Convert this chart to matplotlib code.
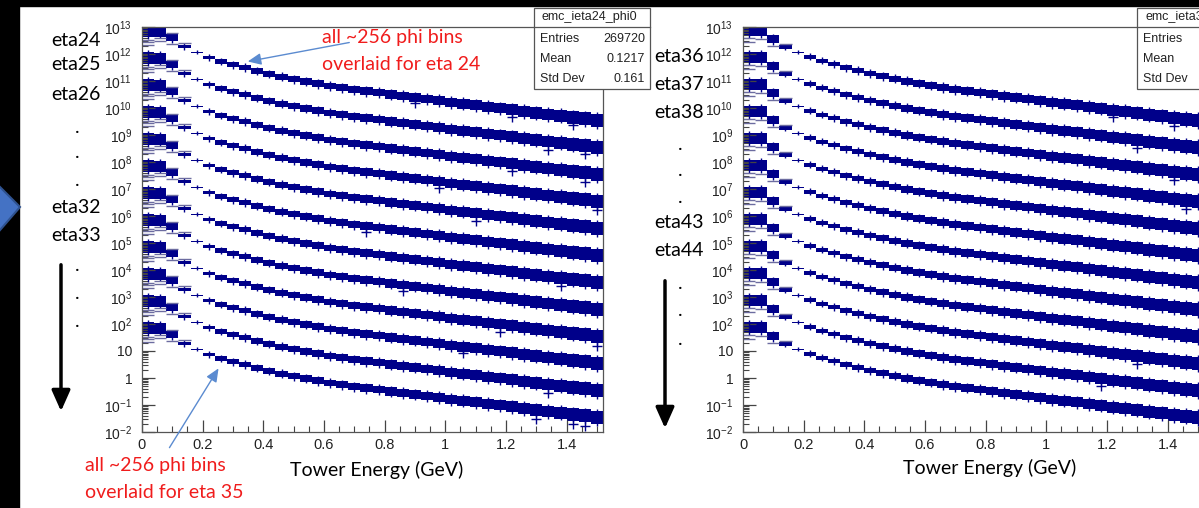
import numpy as np
import matplotlib.pyplot as plt
from matplotlib.patches import Rectangle, Polygon, FancyArrowPatch
from matplotlib.ticker import FixedLocator, FuncFormatter, MultipleLocator

plt.rcParams['font.family'] = ['Liberation Sans', 'DejaVu Sans']
plt.rcParams['mathtext.default'] = 'regular'

W, H = 1199, 508
NAVY = '#00008a'
RED = '#f01c1c'
SLIDE = ['Lato', 'DejaVu Sans']

# 38 energy bins of 0.04 GeV
bin_edges = np.round(np.arange(0, 1.52 + 1e-9, 0.04), 2)

# log10(counts) per bin for the top curve of each panel (eta24 / eta36)
logy_left = [12.85, 12.84, 12.60, 12.28, 12.07, 11.87, 11.72, 11.60, 11.49, 11.37,
             11.26, 11.16, 11.06, 10.98, 10.90, 10.81, 10.75, 10.68, 10.62, 10.57,
             10.50, 10.45, 10.39, 10.33, 10.28, 10.21, 10.16, 10.10, 10.04, 9.99,
             9.93, 9.87, 9.82, 9.76, 9.71, 9.65, 9.60, 9.54]
# half spread (decades) of the ~256 overlaid phi bins
spread_left = [0.22, 0.20, 0.13, 0.06, 0.02, 0.07, 0.08, 0.09, 0.10, 0.10,
               0.10, 0.11, 0.11, 0.12, 0.12, 0.12, 0.13, 0.13, 0.14, 0.14,
               0.15, 0.15, 0.16, 0.16, 0.17, 0.17, 0.18, 0.18, 0.19, 0.19,
               0.20, 0.20, 0.21, 0.22, 0.22, 0.23, 0.24, 0.25]

logy_right = [12.88, 12.86, 12.54, 12.26, 12.07, 11.89, 11.75, 11.62, 11.49, 11.38,
              11.28, 11.17, 11.08, 10.99, 10.91, 10.83, 10.76, 10.69, 10.63, 10.57,
              10.51, 10.45, 10.39, 10.33, 10.27, 10.21, 10.15, 10.10, 10.04, 9.98,
              9.92, 9.87, 9.81, 9.75, 9.70, 9.64, 9.58, 9.53]
spread_right = [0.21, 0.21, 0.15, 0.06, 0.02, 0.07, 0.07, 0.08, 0.09, 0.10,
                0.10, 0.11, 0.11, 0.12, 0.12, 0.12, 0.13, 0.13, 0.14, 0.14,
                0.15, 0.15, 0.16, 0.16, 0.17, 0.17, 0.18, 0.18, 0.19, 0.19,
                0.20, 0.20, 0.21, 0.22, 0.22, 0.23, 0.24, 0.25]

# each eta row is shifted down by a decade
shift_left = [0, -1, -2, -3, -4, -5, -6, -7, -8, -9, -10, -11]     # eta24..eta35
shift_right = [0, -1, -2, -3, -4, -5, -6, -7, -8, -9, -10, -11]    # eta36..eta47

# faint single-phi lines in the low bins: (bin, decades from centre)
ghost_left = [(0, -0.32), (0, -0.42), (0, -0.52), (1, -0.26), (1, -0.34),
              (2, 0.18), (2, -0.22), (3, 0.12)]
ghost_right = [(0, -0.30), (0, -0.42), (1, -0.30), (2, -0.24), (3, 0.10)]

# stray phi bins drawn as crosses: (row, bin, decades from centre)
outliers_left = [(0, 22, -0.22), (0, 30, -0.27), (0, 35, -0.29), (1, 33, -0.30),
                 (1, 36, -0.29), (2, 30, -0.27), (2, 36, -0.33), (3, 24, -0.25),
                 (3, 37, -0.33), (4, 27, -0.27), (5, 18, -0.20), (6, 34, -0.30),
                 (7, 21, -0.22), (8, 29, -0.27), (8, 37, -0.35), (9, 26, -0.25),
                 (10, 33, -0.31), (11, 32, -0.33), (11, 35, -0.35), (11, 36, -0.36)]
outliers_right = [(0, 30, -0.27), (0, 35, -0.30), (1, 32, -0.29), (2, 35, -0.29),
                  (3, 36, -0.31), (9, 32, -0.30), (10, 29, -0.27)]

xtick_vals = [0, 0.2, 0.4, 0.6, 0.8, 1.0, 1.2, 1.4]
xtick_labels = ['0', '0.2', '0.4', '0.6', '0.8', '1', '1.2', '1.4']
ydecades = list(range(-2, 14))

stats_left = ['emc_ieta24_phi0', ('Entries', '269720'), ('Mean', '0.1217'), ('Std Dev', '0.161')]
stats_right = ['emc_ieta36_phi0', ('Entries', ''), ('Mean', ''), ('Std Dev', '')]


def fx(x):
    return x / W


def fy(y):
    return 1 - y / H


def ylabel_fmt(v, pos):
    e = int(round(np.log10(v)))
    if e == 0:
        return '1'
    if e == 1:
        return '10'
    return r'$10^{%d}$' % e


def draw_panel(ax, logy, spread, shifts, ghosts, outliers):
    left = bin_edges[:-1]
    centers = left + 0.02
    logy = np.array(logy)
    spread = np.array(spread)
    for s in shifts:
        lo = 10 ** (logy + s - spread)
        hi = 10 ** (logy + s + spread)
        ax.bar(left, hi - lo, bottom=lo, width=0.04, align='edge', color=NAVY, lw=0)
        ax.vlines(centers, lo / 10 ** 0.06, hi * 10 ** 0.06, color=NAVY, lw=1)
        for b, d in ghosts:
            ax.hlines(10 ** (logy[b] + s + d), left[b], left[b] + 0.04, color='#6c6ca0', lw=1)
    for k, b, d in outliers:
        ax.plot(centers[b], 10 ** (logy[b] + shifts[k] + d), marker='+', ms=7, mew=1, color=NAVY)

    ax.set_yscale('log')
    ax.set_xlim(0, 1.52)
    ax.set_ylim(1e-2, 1e13)
    ax.yaxis.set_major_locator(FixedLocator([10.0 ** e for e in ydecades]))
    ax.yaxis.set_minor_locator(FixedLocator([m * 10.0 ** e for e in ydecades[:-1] for m in range(2, 10)]))
    ax.yaxis.set_major_formatter(FuncFormatter(ylabel_fmt))
    ax.set_xticks(xtick_vals)
    ax.set_xticklabels(xtick_labels)
    ax.xaxis.set_minor_locator(MultipleLocator(0.05))
    ax.tick_params(which='both', direction='in', colors='#444444', labelcolor='#222222',
                   labelsize=10, top=False, right=False)
    ax.tick_params(axis='x', labelsize=10.5)
    ax.tick_params(which='major', length=9, width=0.9)
    ax.tick_params(which='minor', length=4.5, width=0.8)
    ax.tick_params(axis='y', pad=7)
    ax.tick_params(axis='x', pad=4)
    for sp in ax.spines.values():
        sp.set_color('#555555')
        sp.set_linewidth(0.9)


def stats_box(fig, x0, stats):
    y0, y1, ysep, wbox = 8, 89, 27, 116
    fig.add_artist(Rectangle((fx(x0), fy(y1)), wbox / W, (y1 - y0) / H, transform=fig.transFigure,
                             fc='white', ec='#555555', lw=0.9, zorder=5))
    fig.add_artist(plt.Line2D([fx(x0), fx(x0 + wbox)], [fy(ysep), fy(ysep)], transform=fig.transFigure,
                              color='#555555', lw=0.9, zorder=6))
    fig.text(fx(x0 + 8), fy(17), stats[0], ha='left', va='center', fontsize=9,
             color='#222222', zorder=7)
    for i, (name, val) in enumerate(stats[1:]):
        yy = 39 + 20 * i
        fig.text(fx(x0 + 6), fy(yy), name, ha='left', va='center', fontsize=9, color='#222222', zorder=7)
        if val:
            fig.text(fx(x0 + wbox - 5), fy(yy), val, ha='right', va='center', fontsize=9,
                     color='#222222', zorder=7)


fig = plt.figure(figsize=(W / 100, H / 100), dpi=100, facecolor='white')

ax1 = fig.add_axes([fx(142), fy(432), 461 / W, 405 / H])
draw_panel(ax1, logy_left, spread_left, shift_left, ghost_left, outliers_left)
ax2 = fig.add_axes([fx(743), fy(432), 461 / W, 405 / H])
draw_panel(ax2, logy_right, spread_right, shift_right, ghost_right, outliers_right)

stats_box(fig, 534, stats_left)
stats_box(fig, 1137, stats_right)

# slide background bits
fig.add_artist(Rectangle((0, fy(6)), 1, 6 / H, transform=fig.transFigure, color='black', zorder=8))
fig.add_artist(Rectangle((0, 0), 19 / W, 1, transform=fig.transFigure, color='black', zorder=8))
fig.add_artist(Polygon([(fx(-6), fy(181)), (fx(20), fy(207)), (fx(-6), fy(237))], closed=True,
                       transform=fig.transFigure, fc='#4472c4', ec='#2f528f', lw=1.5, zorder=9))

# eta labels
labels_left = [('eta24', 40), ('eta25', 65), ('eta26', 95), ('eta32', 208), ('eta33', 235)]
labels_right = [('eta36', 57), ('eta37', 85), ('eta38', 112), ('eta43', 222), ('eta44', 251)]
for s, y in labels_left:
    fig.text(fx(101), fy(y), s, ha='right', va='center', fontsize=14, family=SLIDE, color='black')
for s, y in labels_right:
    fig.text(fx(704), fy(y), s, ha='right', va='center', fontsize=14, family=SLIDE, color='black')
for y in [130, 155, 183, 268, 296, 324]:
    fig.text(fx(77), fy(y + 3), '.', ha='center', va='baseline', fontsize=14, family=SLIDE, color='black')
for y in [147, 173, 200, 286, 313, 342]:
    fig.text(fx(680), fy(y + 3), '.', ha='center', va='baseline', fontsize=14, family=SLIDE, color='black')

# downward arrows
for x, ya, yb in [(61, 262, 414), (665, 278, 431)]:
    fig.add_artist(FancyArrowPatch((fx(x), fy(ya)), (fx(x), fy(yb)), transform=fig.transFigure,
                                   arrowstyle='-|>,head_length=0.9,head_width=0.4', mutation_scale=14,
                                   lw=2.5, color='black', zorder=9))

# x axis titles
fig.text(fx(377), fy(470), 'Tower Energy (GeV)', ha='center', va='center', fontsize=14, family=SLIDE)
fig.text(fx(990), fy(468), 'Tower Energy (GeV)', ha='center', va='center', fontsize=14, family=SLIDE)

# red annotations
fig.text(fx(322), fy(38), 'all ~256 phi bins', ha='left', va='center', fontsize=14, family=SLIDE, color=RED)
fig.text(fx(322), fy(65), 'overlaid for eta 24', ha='left', va='center', fontsize=14, family=SLIDE, color=RED)
fig.text(fx(85), fy(465), 'all ~256 phi bins', ha='left', va='center', fontsize=14, family=SLIDE, color=RED)
fig.text(fx(85), fy(492), 'overlaid for eta 35', ha='left', va='center', fontsize=14, family=SLIDE, color=RED)

for a, b in [((352, 42), (245, 62)), ((168, 450), (220, 366))]:
    fig.add_artist(FancyArrowPatch((fx(a[0]), fy(a[1])), (fx(b[0]), fy(b[1])), transform=fig.transFigure,
                                   arrowstyle='-|>,head_length=0.8,head_width=0.35', mutation_scale=10,
                                   lw=1, color='#5b8bd0', zorder=9))

fig.savefig('out.png', dpi=100, facecolor='white')
